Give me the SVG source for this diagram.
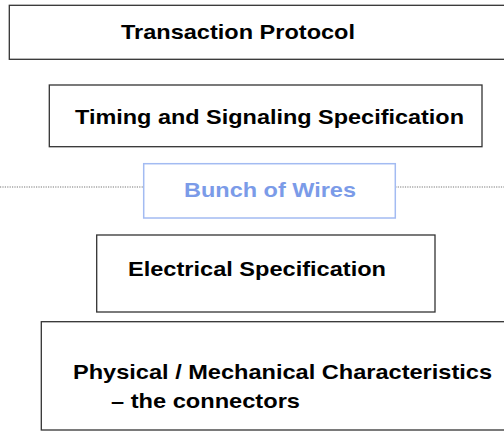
<svg xmlns="http://www.w3.org/2000/svg" width="504" height="431" viewBox="0 0 504 431">
<style>
.box{fill:#fff;stroke:#333;stroke-width:1.3}
.t{font-family:"Liberation Sans",Arial,sans-serif;font-weight:bold;font-size:21px;fill:#000}
.blue{fill:#7b9be8}
.bbox{fill:#fff;stroke:#a3bbf2;stroke-width:1.5}
.dot{stroke:#777;stroke-width:1.2;stroke-dasharray:1.2 1.2;fill:none}
</style>
<rect width="504" height="431" fill="#fff"/>
<g id="connectors">
<line class="dot" x1="0" y1="187" x2="143.7" y2="187"/>
<line class="dot" x1="395.3" y1="187" x2="504" y2="187"/>
</g>
<g id="transaction">
<rect class="box" x="9.3" y="5.3" width="510" height="54"/>
<text class="t" x="121" y="38.5" textLength="234" lengthAdjust="spacingAndGlyphs">Transaction Protocol</text>
</g>
<g id="timing">
<rect class="box" x="49.3" y="85" width="432.7" height="61.7"/>
<text class="t" x="75" y="124" textLength="389" lengthAdjust="spacingAndGlyphs">Timing and Signaling Specification</text>
</g>
<g id="wires">
<rect class="bbox" x="143.7" y="163.7" width="251.6" height="54.3"/>
<text class="t blue" x="184" y="197" textLength="172" lengthAdjust="spacingAndGlyphs">Bunch of Wires</text>
</g>
<g id="electrical">
<rect class="box" x="96.7" y="235" width="338.3" height="77"/>
<text class="t" x="128" y="275.5" textLength="258" lengthAdjust="spacingAndGlyphs">Electrical Specification</text>
</g>
<g id="physical">
<rect class="box" x="41.3" y="321.7" width="480" height="108.3"/>
<text class="t" x="73" y="379" textLength="419" lengthAdjust="spacingAndGlyphs">Physical / Mechanical Characteristics</text>
<text class="t" x="111" y="407.5" textLength="189" lengthAdjust="spacingAndGlyphs">– the connectors</text>
</g>
</svg>
